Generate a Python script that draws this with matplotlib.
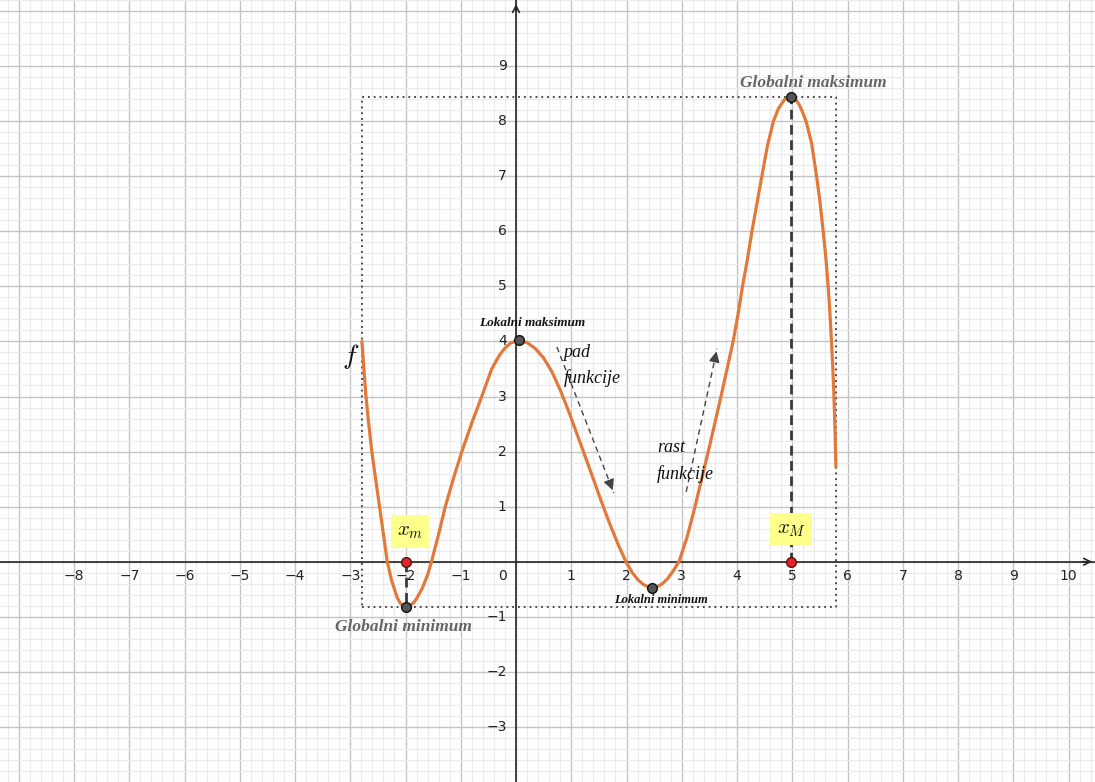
import matplotlib
matplotlib.use('Agg')
import matplotlib.pyplot as plt
import numpy as np

plt.rcParams['mathtext.fontset'] = 'cm'

# ---- data ----
curve_x = [-2.79, -2.75, -2.715, -2.665, -2.61, -2.54, -2.47, -2.40, -2.33, -2.25,
           -2.15, -2.1, -2.05, -2.0, -1.95, -1.9, -1.85, -1.8, -1.7, -1.6, -1.53,
           -1.4, -1.28, -1.13, -0.98, -0.8, -0.62, -0.44, -0.3, -0.2, -0.1, 0.05,
           0.2, 0.35, 0.5, 0.65, 0.8, 0.95, 1.1, 1.22, 1.35, 1.5, 1.58, 1.7, 1.85,
           1.99, 2.1, 2.2, 2.3, 2.4, 2.47, 2.55, 2.65, 2.75, 2.85, 2.95, 3.1, 3.24,
           3.36, 3.48, 3.6, 3.71, 3.82, 3.93, 4.02, 4.10, 4.19, 4.27, 4.36, 4.45,
           4.55, 4.66, 4.75, 4.85, 4.92, 4.98, 5.05, 5.12, 5.18, 5.25, 5.35, 5.44,
           5.5, 5.56, 5.61, 5.65, 5.68, 5.71, 5.735, 5.755, 5.775, 5.79]
curve_y = [4.02, 3.45, 3.0, 2.5, 2.0, 1.5, 1.0, 0.5, 0.0, -0.35,
           -0.65, -0.745, -0.80, -0.82, -0.81, -0.78, -0.74, -0.67, -0.49, -0.24, 0.0,
           0.5, 1.0, 1.52, 2.0, 2.52, 3.0, 3.5, 3.75, 3.88, 3.97, 4.02,
           3.98, 3.87, 3.70, 3.45, 3.12, 2.74, 2.33, 2.0, 1.64, 1.22, 1.0, 0.68, 0.31,
           0.0, -0.19, -0.32, -0.41, -0.46, -0.47, -0.455, -0.40, -0.30, -0.16, 0.0, 0.46, 1.0,
           1.5, 2.0, 2.52, 3.0, 3.5, 4.0, 4.5, 5.0, 5.5, 6.0, 6.5, 7.0,
           7.55, 8.0, 8.23, 8.38, 8.43, 8.44, 8.41, 8.31, 8.18, 8.0, 7.6, 7.0,
           6.55, 6.0, 5.5, 5.0, 4.55, 4.0, 3.5, 3.0, 2.35, 1.71]

extrema_x = [-2.0, 0.05, 2.47, 4.98]
extrema_y = [-0.82, 4.02, -0.47, 8.44]
marked_x = [-2.0, 4.98]          # x_m, x_M on the x axis

x_tick_values = [-8, -7, -6, -5, -4, -3, -2, -1, 1, 2, 3, 4, 5, 6, 7, 8, 9, 10]
y_tick_values = [-3, -2, -1, 1, 2, 3, 4, 5, 6, 7, 8, 9]

ORANGE = '#e2793a'
DARK = '#3a3a3a'

fig = plt.figure(figsize=(10.95, 7.82), dpi=100)
ax = fig.add_axes([0, 0, 1, 1])
ax.set_xlim(-516 / 55.25, (1095 - 516) / 55.25)
ax.set_ylim(-(782 - 563) / 55.3, 563 / 55.3)

# grid
ax.set_xticks(np.arange(-9, 11, 1))
ax.set_yticks(np.arange(-3, 11, 1))
ax.set_xticks(np.arange(-9.2, 10.6, 0.2), minor=True)
ax.set_yticks(np.arange(-4.0, 10.4, 0.2), minor=True)
ax.grid(which='major', color='#c4c4c4', lw=1.0, zorder=0)
ax.grid(which='minor', color='#ebebeb', lw=0.8, zorder=0)
ax.tick_params(which='both', length=0, labelbottom=False, labelleft=False)
for s in ax.spines.values():
    s.set_visible(False)
ax.set_axisbelow(True)

# axes lines with arrows
ax.axhline(0, color='#262626', lw=1.2, zorder=2)
ax.axvline(0, color='#262626', lw=1.2, zorder=2)
ax.annotate('', xy=(0, 10.18), xytext=(0, 9.95),
            arrowprops=dict(arrowstyle='->', color='#262626', lw=1.2, mutation_scale=12), zorder=2)
ax.annotate('', xy=(10.48, 0), xytext=(10.2, 0),
            arrowprops=dict(arrowstyle='->', color='#262626', lw=1.2, mutation_scale=12), zorder=2)

# tick labels
for v in x_tick_values:
    ax.text(v, -0.26, ('\u2212%d' % -v) if v < 0 else str(v), ha='center', va='center',
            fontsize=10, color='#222222', zorder=3)
for v in y_tick_values:
    ax.text(-0.17, v, ('\u2212%d' % -v) if v < 0 else str(v), ha='right', va='center',
            fontsize=10, color='#222222', zorder=3)
ax.text(-0.17, -0.26, '0', ha='right', va='center', fontsize=10, color='#222222', zorder=3)

# bounding dotted rectangle
x0, x1 = min(curve_x), max(curve_x)
y0, y1 = min(curve_y), max(curve_y)
ax.plot([x0, x1, x1, x0, x0], [y0, y0, y1, y1, y0], color=DARK, lw=1.3,
        linestyle=(0, (1, 2.2)), zorder=3)

# curve
ax.plot(curve_x, curve_y, color=ORANGE, lw=2.3, zorder=4, solid_joinstyle='round',
        solid_capstyle='butt')

# dashed verticals to x axis
ax.plot([marked_x[0], marked_x[0]], [0, extrema_y[0]], color=DARK, lw=2, dashes=(3.5, 2), zorder=5)
ax.plot([marked_x[1], marked_x[1]], [0, extrema_y[3]], color=DARK, lw=2, dashes=(3.5, 2), zorder=5)

# points
ax.plot(extrema_x, extrema_y, 'o', ms=7, mfc='#555555', mec='#111111', mew=1, zorder=6)
ax.plot(marked_x, [0, 0], 'o', ms=7, mfc='#e0262a', mec='#5a1010', mew=1, zorder=6)

# labels
serif = 'Liberation Serif'
ax.text(5.39, 8.69, 'Globalni maksimum', family=serif, style='italic', weight='bold',
        fontsize=12.5, color='#666666', ha='center', va='center', zorder=7)
ax.text(-2.03, -1.19, 'Globalni minimum', family=serif, style='italic', weight='bold',
        fontsize=12.5, color='#666666', ha='center', va='center', zorder=7)
ax.text(0.29, 4.34, 'Lokalni maksimum', family=serif, style='italic', weight='bold',
        fontsize=9.5, color='#111111', ha='center', va='center', zorder=7)
ax.text(2.62, -0.69, 'Lokalni minimum', family=serif, style='italic', weight='bold',
        fontsize=9, color='#111111', ha='center', va='center', zorder=7)
ax.text(-3.0, 3.72, '$f$', fontsize=20, ha='center', va='center', color='#111111', zorder=7)

ax.text(-1.92, 0.55, '$x_m$', fontsize=15, ha='center', va='center', color='#111111', zorder=7,
        bbox=dict(boxstyle='square,pad=0.3', fc='#ffff8c', ec='none'))
ax.text(4.98, 0.59, '$x_M$', fontsize=15, ha='center', va='center', color='#111111', zorder=7,
        bbox=dict(boxstyle='square,pad=0.3', fc='#ffff8c', ec='none'))

ax.text(0.86, 3.8, 'pad', family=serif, style='italic', fontsize=13, ha='left', va='center',
        color='#111111', zorder=7)
ax.text(0.86, 3.33, 'funkcije', family=serif, style='italic', fontsize=13, ha='left', va='center',
        color='#111111', zorder=7)
ax.text(2.55, 2.08, 'rast', family=serif, style='italic', fontsize=13, ha='left', va='center',
        color='#111111', zorder=7)
ax.text(2.55, 1.59, 'funkcije', family=serif, style='italic', fontsize=13, ha='left', va='center',
        color='#111111', zorder=7)

# dashed arrows
for (sx, sy, ex, ey) in [(0.74, 3.9, 1.77, 1.25), (3.08, 1.27, 3.64, 3.87)]:
    ax.plot([sx, ex], [sy, ey], color='#444444', lw=1, dashes=(4, 3), zorder=6)
    ax.annotate('', xy=(ex, ey), xytext=(sx + (ex - sx) * 0.9, sy + (ey - sy) * 0.9),
                arrowprops=dict(arrowstyle='-|>', color='#444444', lw=1, mutation_scale=16),
                zorder=6)

fig.savefig('out.png', dpi=100)
